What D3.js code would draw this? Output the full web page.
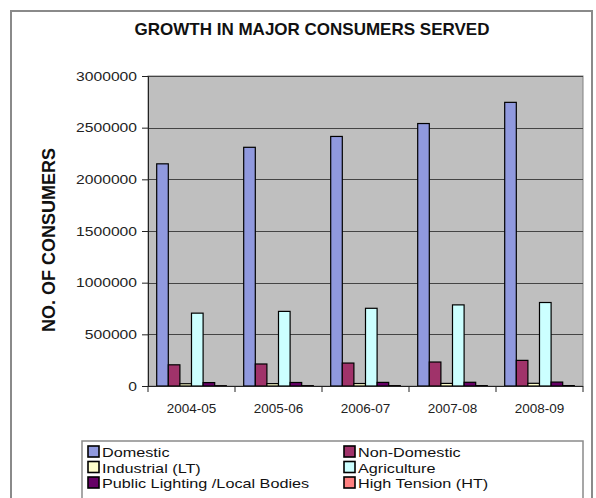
<!DOCTYPE html>
<html>
<head>
<meta charset="utf-8">
<script src="https://cdn.jsdelivr.net/npm/d3@7"></script>
<style>
  html, body { margin: 0; padding: 0; background: #fff; }
  svg { display: block; font-family: Arial, "Liberation Sans", sans-serif; }
</style>
</head>
<body>
<svg id="chart" width="596" height="498"></svg>
<script>
// Financial years on the category axis
const years = ["2004-05", "2005-06", "2006-07", "2007-08", "2008-09"];

// Consumer categories (series) and their fill colours
const seriesNames = [
  "Domestic", "Non-Domestic", "Industrial (LT)",
  "Agriculture", "Public Lighting /Local Bodies", "High Tension (HT)"
];
const seriesColors = ["#9099de", "#a0336a", "#ffffcc", "#ccffff", "#660066", "#ff8080"];

// Number of consumers per category, one value per year
const domestic     = [2150000, 2310000, 2415000, 2540000, 2745000];
const nonDomestic  = [205000, 213000, 222000, 232000, 248000];
const industrialLT = [22000, 23000, 24000, 25000, 26000];
const agriculture  = [705000, 722000, 752000, 785000, 808000];
const publicLight  = [33000, 34000, 35000, 36000, 38000];
const highTension  = [3000, 3200, 3400, 3600, 3800];

const seriesValues = [domestic, nonDomestic, industrialLT, agriculture, publicLight, highTension];

// Y axis ticks
const yTicks = [0, 500000, 1000000, 1500000, 2000000, 2500000, 3000000];

const svg = d3.select("#chart");

// Outer chart frame
svg.append("rect")
  .attr("x", 11).attr("y", 11)
  .attr("width", 581).attr("height", 500)
  .attr("fill", "#fff")
  .attr("stroke", "#8a8a8a").attr("stroke-width", 2);

// Title
svg.append("text")
  .attr("x", 312).attr("y", 35)
  .attr("text-anchor", "middle")
  .attr("font-size", 17).attr("font-weight", "bold")
  .attr("fill", "#111")
  .text("GROWTH IN MAJOR CONSUMERS SERVED");

// Plot area
const plot = { left: 148, right: 583, top: 76, bottom: 386 };

const x = d3.scaleBand()
  .domain(years)
  .range([plot.left, plot.right])
  .paddingInner(0).paddingOuter(0);

// Bars inside each year group: 150% gap split to both sides
const gapRatio = 1.5;
const barW = x.bandwidth() / (seriesNames.length + gapRatio);
const xInner = d3.scaleBand()
  .domain(seriesNames)
  .range([barW * gapRatio / 2, barW * gapRatio / 2 + barW * seriesNames.length])
  .padding(0);

const y = d3.scaleLinear()
  .domain([0, 3000000])
  .range([plot.bottom, plot.top]);

// Plot background
svg.append("rect")
  .attr("x", plot.left).attr("y", plot.top)
  .attr("width", plot.right - plot.left).attr("height", plot.bottom - plot.top)
  .attr("fill", "#bfbfbf")
  .attr("stroke", "#808080").attr("stroke-width", 1);

// Horizontal gridlines
svg.append("g")
  .selectAll("line")
  .data(yTicks.filter(d => d > 0))
  .join("line")
  .attr("x1", plot.left).attr("x2", plot.right)
  .attr("y1", d => Math.round(y(d)) + 0.5).attr("y2", d => Math.round(y(d)) + 0.5)
  .attr("stroke", "#444").attr("stroke-width", 1);

// Bars
const groups = svg.append("g")
  .selectAll("g")
  .data(years.map((yr, i) => ({ year: yr, i })))
  .join("g")
  .attr("transform", d => `translate(${x(d.year)},0)`);

groups.selectAll("rect")
  .data(d => seriesNames.map((s, k) => ({ name: s, k, value: seriesValues[k][d.i] })))
  .join("rect")
  .attr("x", d => xInner(d.name))
  .attr("y", d => y(d.value))
  .attr("width", xInner.bandwidth())
  .attr("height", d => y(0) - y(d.value))
  .attr("fill", d => seriesColors[d.k])
  .attr("stroke", "#000").attr("stroke-width", 1.2);

// Y axis
const yAxis = d3.axisLeft(y)
  .tickValues(yTicks)
  .tickFormat(d3.format("d"))
  .tickSize(6)
  .tickPadding(5);

const gy = svg.append("g")
  .attr("transform", `translate(${plot.left},0)`)
  .call(yAxis);
gy.select(".domain").attr("stroke", "#222");
gy.selectAll(".tick line").attr("stroke", "#222");
gy.selectAll(".tick text")
  .attr("font-size", 13)
  .attr("font-family", "Arial, 'Liberation Sans', sans-serif")
  .attr("fill", "#222")
  .attr("textLength", d => String(d).length * 8.7)
  .attr("lengthAdjust", "spacingAndGlyphs");

// X axis with ticks at group boundaries
const gx = svg.append("g")
  .attr("transform", `translate(0,${plot.bottom})`);
gx.append("line")
  .attr("x1", plot.left).attr("x2", plot.right)
  .attr("y1", 0.5).attr("y2", 0.5)
  .attr("stroke", "#222");
const boundaries = years.map(yr => x(yr)).concat([x(years[years.length - 1]) + x.bandwidth()]);
gx.selectAll("line.tick")
  .data(boundaries)
  .join("line")
  .attr("class", "tick")
  .attr("x1", d => d).attr("x2", d => d)
  .attr("y1", 0).attr("y2", 6)
  .attr("stroke", "#222");
gx.selectAll("text")
  .data(years)
  .join("text")
  .attr("x", d => x(d) + x.bandwidth() / 2)
  .attr("y", 27)
  .attr("text-anchor", "middle")
  .attr("font-size", 13.5)
  .attr("fill", "#222")
  .text(d => d);

// Y axis title
svg.append("text")
  .attr("transform", "translate(55,240) rotate(-90)")
  .attr("text-anchor", "middle")
  .attr("font-size", 18)
  .attr("font-weight", "bold")
  .attr("fill", "#111")
  .text("NO. OF CONSUMERS");

// Legend
svg.append("rect")
  .attr("x", 82).attr("y", 441)
  .attr("width", 501).attr("height", 80)
  .attr("fill", "#fff")
  .attr("stroke", "#8a8a8a").attr("stroke-width", 1.5);

const legend = svg.append("g")
  .selectAll("g")
  .data(seriesNames.map((s, k) => ({ name: s, k })))
  .join("g")
  .attr("transform", d => `translate(${d.k % 2 === 0 ? 88 : 344},${457 + Math.floor(d.k / 2) * 15.5})`);

legend.append("rect")
  .attr("x", 0).attr("y", -11)
  .attr("width", 11).attr("height", 11)
  .attr("fill", d => seriesColors[d.k])
  .attr("stroke", "#000").attr("stroke-width", 1.6);

// Legend labels: compact line height, glyphs widened to the legend's wide lettering
legend.append("text")
  .attr("x", 14).attr("y", 0)
  .attr("font-size", 13.5)
  .attr("fill", "#111")
  .text(d => d.name)
  .each(function () {
    const w = this.getComputedTextLength();
    d3.select(this)
      .attr("textLength", w * 1.2)
      .attr("lengthAdjust", "spacingAndGlyphs");
  });
</script>
</body>
</html>
